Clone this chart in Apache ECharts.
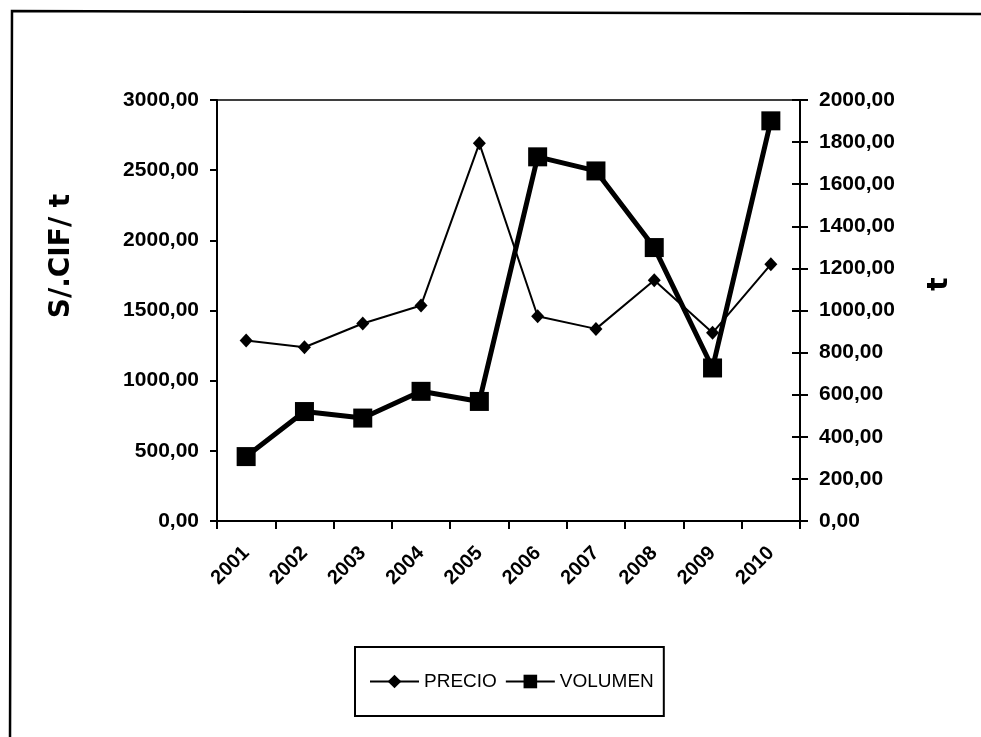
<!DOCTYPE html>
<html>
<head>
<meta charset="utf-8">
<script src="https://cdn.jsdelivr.net/npm/echarts@6/dist/echarts.min.js"></script>
<style>
  html, body { margin: 0; padding: 0; background: #fff; }
  #chart { width: 981px; height: 737px; }
</style>
</head>
<body>
<div id="chart"></div>
<script>
// Years on the category axis
const years = ['2001', '2002', '2003', '2004', '2005', '2006', '2007', '2008', '2009', '2010'];
// Price, S/. CIF per tonne (left axis)
const precio = [1286, 1238, 1407, 1536, 2691, 1459, 1369, 1716, 1341, 1829];
// Volume, tonnes (right axis)
const volumen = [306, 520, 489, 616, 568, 1730, 1663, 1299, 727, 1901];
// Axis ranges
const precioAxis = { min: 0, max: 3000, interval: 500 };
const volumenAxis = { min: 0, max: 2000, interval: 200 };

const FONT = 'Liberation Sans, Arial, sans-serif';
const fmt = v => v.toFixed(2).replace('.', ',');

const chart = echarts.init(document.getElementById('chart'), null, { renderer: 'canvas' });

chart.setOption({
  backgroundColor: '#ffffff',
  animation: false,
  grid: {
    left: 217, top: 100, width: 583, height: 421,
    show: true, borderColor: '#000', borderWidth: 1.5, backgroundColor: 'transparent'
  },
  legend: {
    left: 355, top: 647,
    padding: [25, 10, 25, 14],
    borderColor: '#000', borderWidth: 2,
    itemWidth: 49, itemHeight: 17, itemGap: 8,
    textStyle: { fontFamily: FONT, fontSize: 19, color: '#000' },
    lineStyle: { width: 2 },
    data: ['PRECIO', 'VOLUMEN']
  },
  xAxis: {
    type: 'category',
    data: years,
    boundaryGap: true,
    axisLine: { lineStyle: { color: '#000', width: 2 } },
    axisTick: { show: true, length: 8, lineStyle: { color: '#000', width: 2 } },
    axisLabel: {
      rotate: 45, margin: 29, interval: 0,
      fontFamily: FONT, fontSize: 20, fontWeight: 'bold', color: '#000'
    },
    splitLine: { show: false }
  },
  yAxis: [
    {
      type: 'value', position: 'left',
      min: precioAxis.min, max: precioAxis.max, interval: precioAxis.interval,
      axisLine: { show: true, lineStyle: { color: '#000', width: 2 } },
      axisTick: { show: true, length: 7, lineStyle: { color: '#000', width: 2 } },
      axisLabel: { margin: 18, formatter: fmt, fontFamily: FONT, fontSize: 21, fontWeight: 'bold', color: '#000' },
      splitLine: { show: false }
    },
    {
      type: 'value', position: 'right',
      min: volumenAxis.min, max: volumenAxis.max, interval: volumenAxis.interval,
      axisLine: { show: true, lineStyle: { color: '#000', width: 2 } },
      axisTick: { show: true, length: 8, lineStyle: { color: '#000', width: 2 } },
      axisLabel: { margin: 19, formatter: fmt, fontFamily: FONT, fontSize: 21, fontWeight: 'bold', color: '#000' },
      splitLine: { show: false }
    },
    {
      // inner half of the crossing ticks on the right axis
      type: 'value', position: 'right',
      min: volumenAxis.min, max: volumenAxis.max, interval: volumenAxis.interval,
      axisLine: { show: false },
      axisTick: { show: true, inside: true, length: 8, lineStyle: { color: '#000', width: 2 } },
      axisLabel: { show: false },
      splitLine: { show: false }
    }
  ],
  series: [
    {
      name: 'PRECIO', type: 'line', yAxisIndex: 0,
      data: precio,
      symbol: 'diamond', symbolSize: [13, 14],
      lineStyle: { color: '#000', width: 2 },
      itemStyle: { color: '#000' },
      z: 2
    },
    {
      name: 'VOLUMEN', type: 'line', yAxisIndex: 1,
      data: volumen,
      symbol: 'rect', symbolSize: 19,
      lineStyle: { color: '#000', width: 5 },
      itemStyle: { color: '#000' },
      z: 3
    }
  ],
  graphic: [
    {
      type: 'polyline',
      shape: { points: [[10, 737], [12, 11], [981, 14]] },
      style: { stroke: '#000', lineWidth: 2.5, fill: null },
      silent: true
    },
    {
      type: 'text', x: 62, y: 256, rotation: Math.PI / 2,
      style: {
        text: 'S/.CIF/ t', align: 'center', verticalAlign: 'middle',
        font: 'bold 28px DejaVu Sans, sans-serif', fill: '#000'
      }
    },
    {
      type: 'text', x: 940, y: 284, rotation: Math.PI / 2,
      style: {
        text: 't', align: 'center', verticalAlign: 'middle',
        font: 'bold 28px DejaVu Sans, sans-serif', fill: '#000'
      }
    }
  ]
});
</script>
</body>
</html>
